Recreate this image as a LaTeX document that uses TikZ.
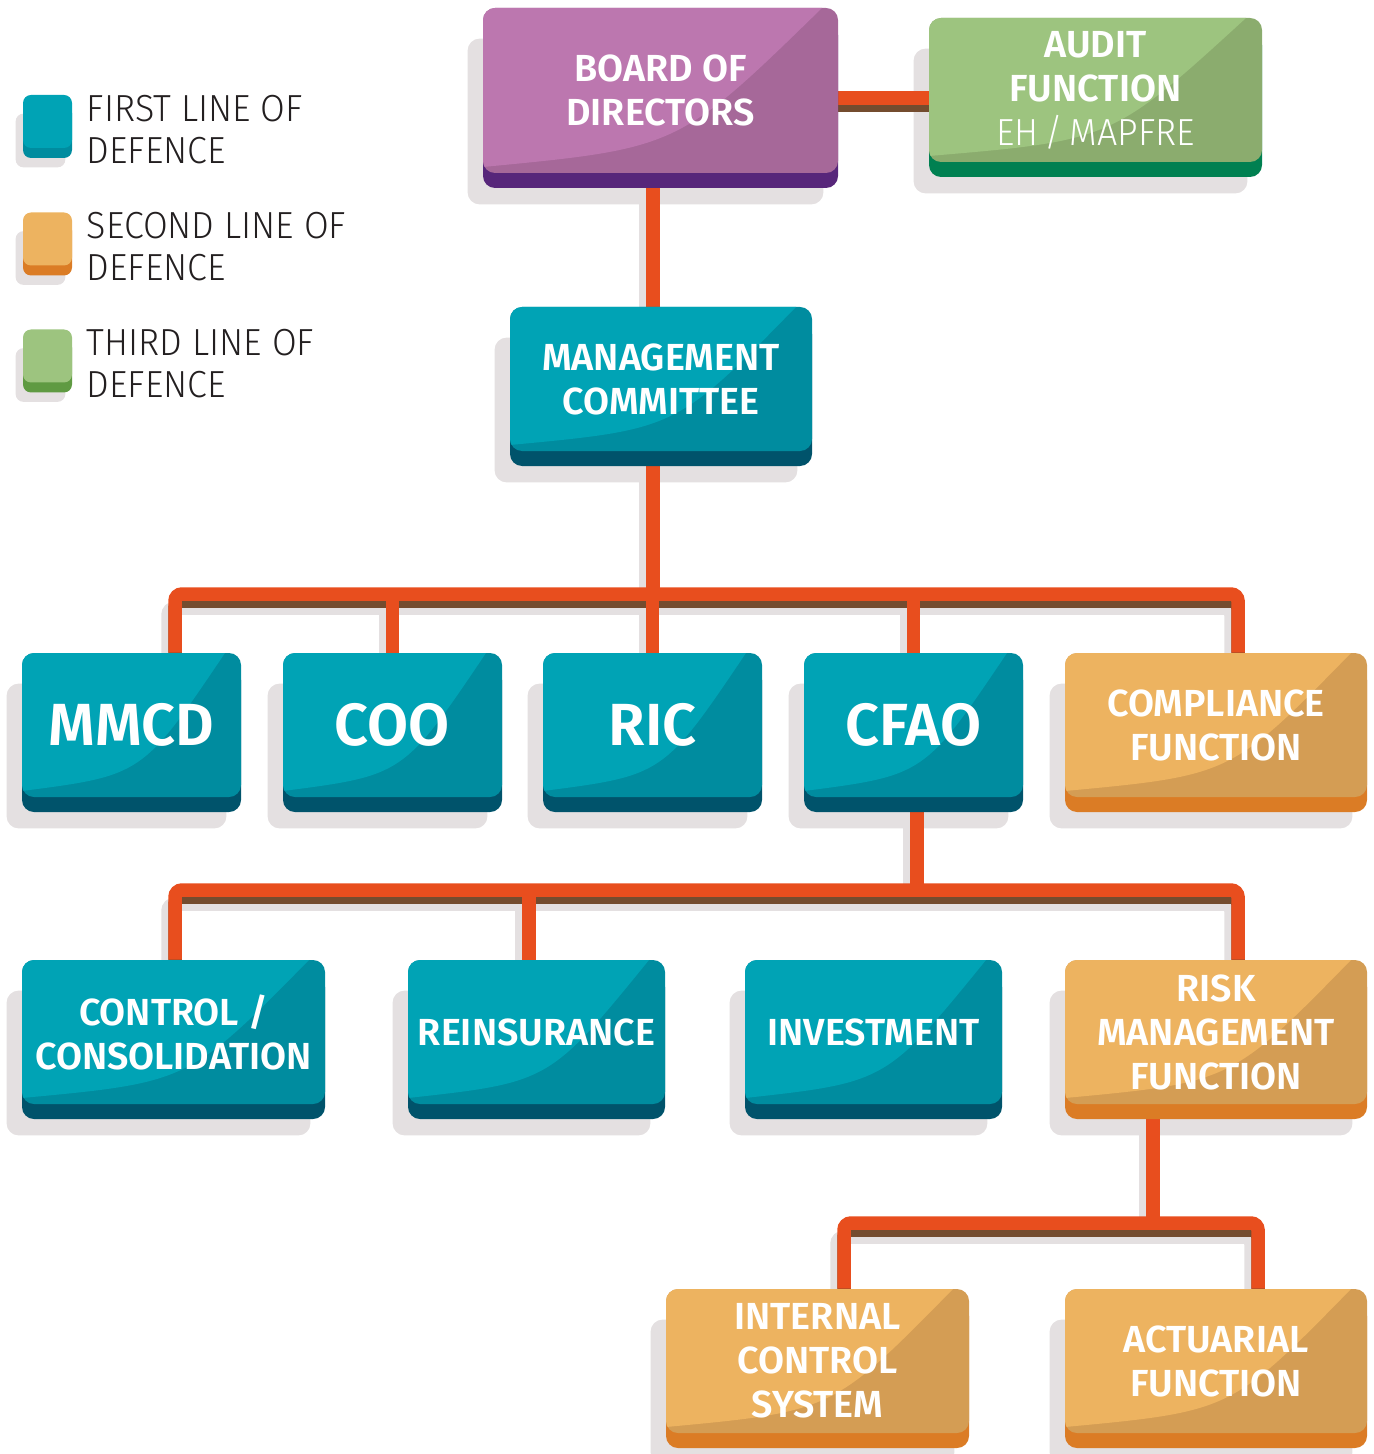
\documentclass[tikz,border=0pt]{standalone}
\usepackage{fontspec}
\setmainfont{Fira Sans}[BoldFont={Fira Sans SemiBold}]
\newfontfamily\keyfamily{Fira Sans Light}[FakeStretch=0.95]
\usetikzlibrary{calc}

\definecolor{tealL}{HTML}{00A3B5}
\definecolor{tealD}{HTML}{008C9F}
\definecolor{tealS}{HTML}{00536B}
\definecolor{amberL}{HTML}{EDB360}
\definecolor{amberD}{HTML}{D49D54}
\definecolor{amberS}{HTML}{DB7C25}
\definecolor{plumL}{HTML}{BC77AF}
\definecolor{plumD}{HTML}{A66899}
\definecolor{plumS}{HTML}{57267A}
\definecolor{sageL}{HTML}{9DC47F}
\definecolor{sageD}{HTML}{8BAC6E}
\definecolor{sageS}{HTML}{008051}
\definecolor{keygreen}{HTML}{5F9A42}
\definecolor{shadowgrey}{HTML}{E4E0E1}
\definecolor{linkred}{HTML}{E84E1E}
\definecolor{linkbrown}{HTML}{744C2F}
\definecolor{legendink}{HTML}{231F20}

\newcommand{\boxfont}{\bfseries\fontsize{18.85pt}{22pt}\selectfont}
\newcommand{\bigboxfont}{\bfseries\fontsize{29.75pt}{34pt}\selectfont}
\newcommand{\keyfont}{\keyfamily\fontsize{18.85pt}{21pt}\selectfont}

\pgfdeclarelayer{shades}
\pgfdeclarelayer{links}
\pgfsetlayers{shades,links,main}

\tikzset{
  orgbox/.style={rectangle, rounded corners=6pt, inner sep=0pt, align=center,
    text=white, font=\boxfont, fill=#1D,
    preaction={fill=#1S, transform canvas={yshift=-7.5pt}},
    path picture={
      \fill[#1L, sharp corners] let \p1=(path picture bounding box.south west),
        \p2=(path picture bounding box.north east) in
        (\x1,{\y1+3pt}) .. controls ({\x1+0.55*(\x2-\x1)},{\y1+0.15*(\y2-\y1)})
        .. ({\x2-8pt},\y2) -- (\x1,\y2) -- cycle;
    }},
  keybox/.style 2 args={rectangle, rounded corners=4pt, inner sep=0pt, fill=#1,
    minimum width=24.5pt, minimum height=26.5pt,
    preaction={fill=#2, transform canvas={yshift=-5pt}}},
  keytext/.style={font=\keyfont, text=legendink, align=left, inner sep=0pt, anchor=north west},
  tie/.style={draw=linkred, line width=6.75pt, rounded corners=3.5pt,
    preaction={draw=linkbrown, line width=6.75pt, transform canvas={yshift=-3.5pt}}},
  link/.style={preaction={draw=shadowgrey, line width=6.75pt, transform canvas={shift={(-3.5pt,-7pt)}}}, tie}
}

\begin{document}
\begin{tikzpicture}[x=0.5pt,y=-0.5pt]
  \useasboundingbox (0,0) rectangle (1373,1454);
  \def\rowh{72pt}

  % legend
  \node[keybox={tealL}{tealD}] (key1) at (47.5,121.5) {};
  \node[keybox={amberL}{amberS}] (key2) at (47.5,239) {};
  \node[keybox={sageL}{keygreen}] (key3) at (47.5,356) {};
  \node[keytext] (key1text) at ([xshift=7pt]key1.north east) {FIRST LINE OF\\DEFENCE};
  \node[keytext] (key2text) at ([xshift=7pt]key2.north east) {SECOND LINE OF\\DEFENCE};
  \node[keytext] (key3text) at ([xshift=7pt]key3.north east) {THIRD LINE OF\\DEFENCE};

  % boxes
  \node[orgbox=plum, minimum width=177.5pt, minimum height=82.5pt] (board) at (660.5,90.5) {BOARD OF\\DIRECTORS};
  \node[orgbox=sage, minimum width=166.5pt, minimum height=\rowh] (audit) at (1095.5,90) {AUDIT\\FUNCTION\\{\keyfamily\mdseries EH\,/\,MAPFRE}};
  \node[orgbox=teal, minimum width=151pt, minimum height=\rowh] (mgmt) at (661,379) {MANAGEMENT\\COMMITTEE};

  \node[orgbox=teal, font=\bigboxfont, minimum width=109.5pt, minimum height=\rowh] (mmcd) at (131.5,725) {MMCD};
  \node[orgbox=teal, font=\bigboxfont, minimum width=109.5pt, minimum height=\rowh] (coo) at (392.5,725) {COO};
  \node[orgbox=teal, font=\bigboxfont, minimum width=109.5pt, minimum height=\rowh] (ric) at (652.5,725) {RIC};
  \node[orgbox=teal, font=\bigboxfont, minimum width=109.5pt, minimum height=\rowh] (cfao) at (913.5,725) {CFAO};
  \node[orgbox=amber, minimum width=151pt, minimum height=\rowh] (compliance) at (1216,725) {COMPLIANCE\\FUNCTION};

  \node[orgbox=teal, minimum width=151.5pt, minimum height=\rowh] (ctrl) at (173.5,1032) {CONTROL /\\CONSOLIDATION};
  \node[orgbox=teal, minimum width=128.5pt, minimum height=\rowh] (reins) at (536.5,1032) {REINSURANCE};
  \node[orgbox=teal, minimum width=128.5pt, minimum height=\rowh] (invest) at (873.5,1032) {INVESTMENT};
  \node[orgbox=amber, minimum width=151pt, minimum height=\rowh] (risk) at (1216,1032) {RISK\\MANAGEMENT\\FUNCTION};

  \node[orgbox=amber, minimum width=151.5pt, minimum height=\rowh] (internal) at (817.5,1361) {INTERNAL\\CONTROL\\SYSTEM};
  \node[orgbox=amber, minimum width=151pt, minimum height=\rowh] (actuarial) at (1216,1361) {ACTUARIAL\\FUNCTION};

  % shadows
  \begin{pgfonlayer}{shades}
    \foreach \n in {board,audit,mgmt,mmcd,coo,ric,cfao,compliance,ctrl,reins,invest,risk,internal,actuarial}
      \fill[shadowgrey, rounded corners=6pt] ([shift={(-15,31)}]\n.north west) rectangle ([shift={(-15,31)}]\n.south east);
    \foreach \n in {key1,key2,key3}
      \fill[shadowgrey, rounded corners=4pt] ([shift={(-7,19)}]\n.north west) rectangle ([shift={(-7,19)}]\n.south east);
  \end{pgfonlayer}

  % connectors
  \coordinate (tietop) at (884,98);
  \coordinate (trunk1) at (653,594);
  \coordinate (bus1w) at (175,594);
  \coordinate (bus1e) at (1238,594);
  \coordinate (trunk2) at (917,890);
  \coordinate (bus2w) at (175,890);
  \coordinate (bus2e) at (1238,890);
  \coordinate (reinsdrop) at (529,890);
  \coordinate (trunk3) at (1153,1223);
  \coordinate (bus3w) at (844,1223);
  \coordinate (bus3e) at (1258,1223);
  \begin{pgfonlayer}{links}
    \draw[tie] (board.east |- tietop) -- (audit.west |- tietop);
    \draw[link] (board.south -| trunk1) -- (mgmt.north -| trunk1);
    \draw[link] (mgmt.south -| trunk1) -- (trunk1);
    \draw[link] (mmcd.north -| bus1w) -- (bus1w) -- (bus1e) -- (compliance.north -| bus1e);
    \foreach \n in {coo,ric,cfao}
      \draw[link] (\n.north |- trunk1) -- (\n.north);
    \draw[link] (cfao.south -| trunk2) -- (trunk2);
    \draw[link] (ctrl.north -| bus2w) -- (bus2w) -- (bus2e) -- (risk.north -| bus2e);
    \draw[link] (reinsdrop) -- (reins.north -| reinsdrop);
    \draw[link] (risk.south -| trunk3) -- (trunk3);
    \draw[link] (internal.north -| bus3w) -- (bus3w) -- (bus3e) -- (actuarial.north -| bus3e);
  \end{pgfonlayer}
\end{tikzpicture}
\end{document}
